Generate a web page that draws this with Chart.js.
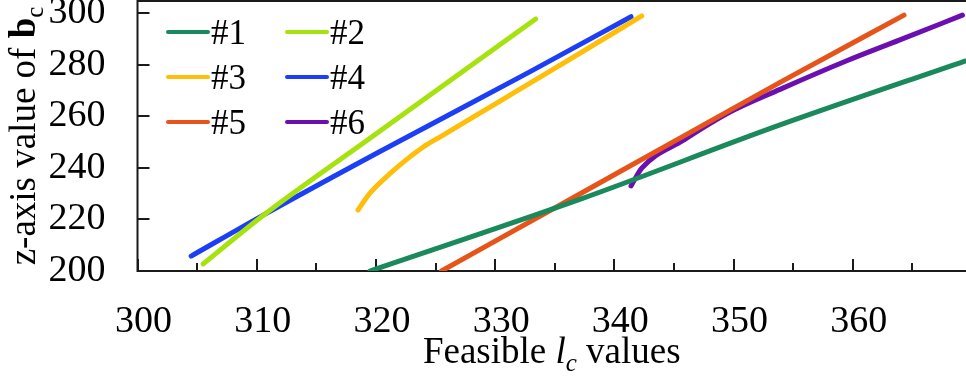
<!DOCTYPE html>
<html>
<head>
<meta charset="utf-8">
<script src="https://cdn.jsdelivr.net/npm/chart.js@4"></script>
<style>
  html, body { margin: 0; padding: 0; background: #fff; }
</style>
</head>
<body>
<canvas id="myChart" width="966" height="381"></canvas>
<script>
// feasible l_c (x) against z-axis value of b_c (y), one pair of arrays per case
const seriesNames = ['#1', '#2', '#3', '#4', '#5', '#6'];
const seriesColors = ['#1a8a5c', '#a6e20e', '#ffbe0a', '#1c3ff5', '#e6541a', '#6c0fb0'];

const lc1 = [319.5, 337.1, 353.9, 369.4];
const bz1 = [200.0, 227.8, 256.7, 281.5];
const lc2 = [305.5, 310.7, 319.5, 333.4];
const bz2 = [202.7, 222.1, 251.5, 297.8];
const lc3 = [318.5, 319.5, 321.2, 324.0, 325.4, 330.1, 335.7, 342.3];
const bz3 = [223.7, 230.2, 237.9, 248.2, 252.1, 265.1, 280.6, 299.0];
const lc4 = [304.5, 310.7, 320.3, 332.9, 341.4];
const bz4 = [205.8, 222.1, 246.3, 277.3, 298.7];
const lc5 = [325.5, 337.1, 345.2, 353.9, 364.3];
const bz5 = [200.0, 229.9, 250.8, 273.2, 299.3];
const lc6 = [341.4, 342.3, 345.8, 349.7, 353.9, 359.5, 363.9, 369.2];
const bz6 = [233.0, 239.9, 250.8, 261.7, 270.5, 281.6, 289.6, 299.3];

const xTicks = [300, 305, 310, 315, 320, 325, 330, 335, 340, 345, 350, 355, 360, 365];
const yTicks = [200, 220, 240, 260, 280, 300];

const lcValues = [lc1, lc2, lc3, lc4, lc5, lc6];
const bzValues = [bz1, bz2, bz3, bz4, bz5, bz6];

const serif = '"Liberation Serif", "Times New Roman", serif';
const frameColor = '#1a1a1a';

// frame, inward tick marks, rich-text axis titles and the 2-column legend
const decor = {
  id: 'decor',
  beforeDatasetsDraw(chart) {
    const ctx = chart.ctx;
    const a = chart.chartArea;
    const xs = chart.scales.x, ys = chart.scales.y;
    ctx.save();
    ctx.strokeStyle = frameColor;
    ctx.lineWidth = 2;
    ctx.beginPath();
    ctx.moveTo(a.right + 2, a.top);
    ctx.lineTo(a.left, a.top);
    ctx.lineTo(a.left, a.bottom);
    ctx.lineTo(a.right + 2, a.bottom);
    ctx.stroke();

    ctx.beginPath();
    xTicks.forEach(v => {
      const px = Math.round(xs.getPixelForValue(v));
      const len = v % 10 === 0 ? 12 : 8;
      ctx.moveTo(px, a.bottom);
      ctx.lineTo(px, a.bottom - len);
    });
    yTicks.forEach(v => {
      const py = Math.round(ys.getPixelForValue(v));
      ctx.moveTo(a.left, py);
      ctx.lineTo(a.left + 12, py);
    });
    ctx.stroke();
    ctx.restore();
  },
  afterDraw(chart) {
    const ctx = chart.ctx;
    const a = chart.chartArea;
    ctx.save();
    ctx.fillStyle = '#000';
    ctx.textBaseline = 'alphabetic';

    const drawParts = (parts, cx, baseY) => {
      let w = 0;
      parts.forEach(p => { ctx.font = p.font; w += ctx.measureText(p.text).width; });
      let x = cx - w / 2;
      parts.forEach(p => {
        ctx.font = p.font;
        ctx.fillText(p.text, x, baseY + (p.dy || 0));
        x += ctx.measureText(p.text).width;
      });
    };

    drawParts([
      { text: 'Feasible ', font: '37px ' + serif },
      { text: 'l', font: 'italic 37px ' + serif },
      { text: 'c', font: 'italic 25px ' + serif, dy: 8 },
      { text: ' values', font: '37px ' + serif }
    ], (a.left + a.right) / 2, 363);

    ctx.save();
    ctx.translate(35, (a.top + a.bottom) / 2);
    ctx.rotate(-Math.PI / 2);
    drawParts([
      { text: 'z-axis value of ', font: '37px ' + serif },
      { text: 'b', font: 'bold 37px ' + serif },
      { text: 'c', font: '25px ' + serif, dy: 8 }
    ], 0, 0);
    ctx.restore();

    // legend
    const colX = [168, 287];
    const rowY = [32, 77, 122];
    chart.data.datasets.forEach((ds, i) => {
      const lx = colX[i % 2], ly = rowY[Math.floor(i / 2)];
      ctx.strokeStyle = ds.borderColor;
      ctx.lineWidth = 4;
      ctx.lineCap = 'round';
      ctx.beginPath();
      ctx.moveTo(lx, ly);
      ctx.lineTo(lx + 40, ly);
      ctx.stroke();
      ctx.font = '35px ' + serif;
      ctx.fillText(ds.label, lx + 43, ly + 12);
    });
    ctx.restore();
  }
};

new Chart(document.getElementById('myChart'), {
  type: 'line',
  data: {
    datasets: seriesNames.map((name, i) => ({
      label: name,
      data: lcValues[i].map((x, j) => ({ x: x, y: bzValues[i][j] })),
      borderColor: seriesColors[i],
      backgroundColor: seriesColors[i],
      borderWidth: 5,
      borderCapStyle: 'round',
      borderJoinStyle: 'round',
      pointRadius: 0,
      cubicInterpolationMode: 'monotone',
      fill: false
    }))
  },
  options: {
    responsive: false,
    animation: false,
    devicePixelRatio: 1,
    layout: { padding: { top: 1, left: 0, right: 0, bottom: 0 } },
    plugins: { legend: { display: false }, tooltip: { enabled: false } },
    scales: {
      x: {
        type: 'linear',
        min: 300,
        max: 369.5,
        grid: { display: false, drawTicks: false },
        border: { display: false },
        ticks: {
          autoSkip: false,
          maxRotation: 0,
          color: '#000',
          padding: 28,
          labelOffset: 6,
          font: { family: serif, size: 38 },
          callback: v => (v % 10 === 0 ? String(v) : '')
        },
        afterBuildTicks: s => { s.ticks = xTicks.map(v => ({ value: v })); },
        afterFit: s => { s.height = 110; s.paddingLeft = 0; s.paddingRight = 0; }
      },
      y: {
        min: 200,
        max: 304.8,
        grid: { display: false, drawTicks: false },
        border: { display: false },
        ticks: {
          color: '#000',
          padding: 32,
          font: { family: serif, size: 38 }
        },
        afterBuildTicks: s => { s.ticks = yTicks.map(v => ({ value: v })); },
        afterFit: s => { s.width = 137.5; s.paddingTop = 0; s.paddingBottom = 0; }
      }
    }
  },
  plugins: [decor]
});
</script>
</body>
</html>
